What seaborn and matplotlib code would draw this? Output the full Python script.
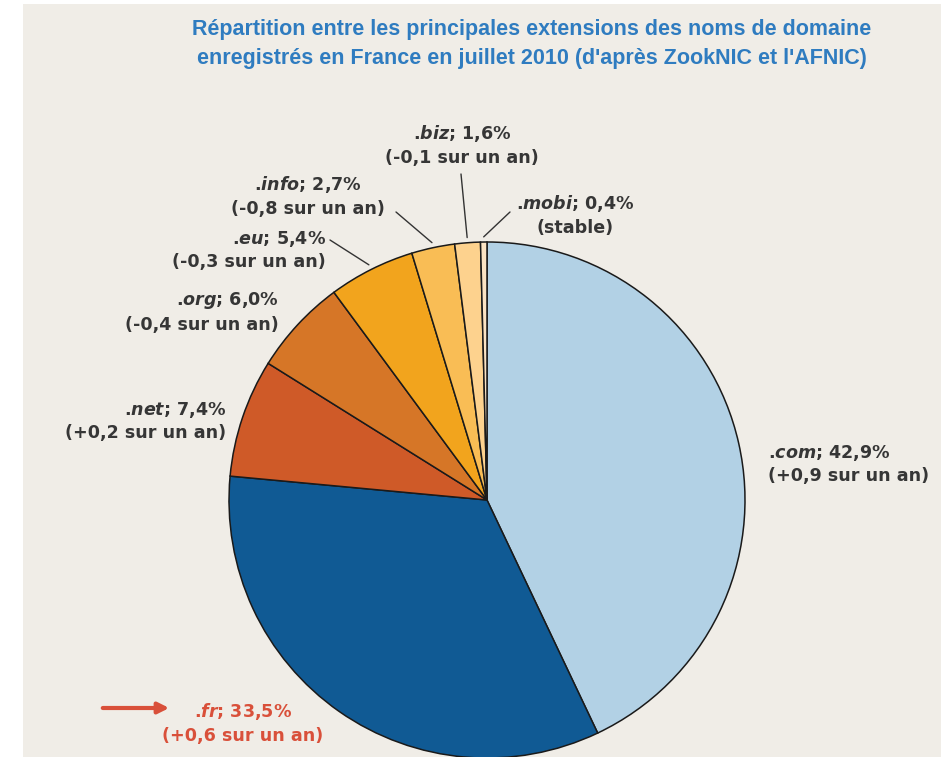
import matplotlib
matplotlib.use("Agg")
import matplotlib.pyplot as plt
from matplotlib.patches import Rectangle
import seaborn as sns
import numpy as np

# data, clockwise from the top
extensions = [".com", ".fr", ".net", ".org", ".eu", ".info", ".biz", ".mobi"]
shares = [42.9, 33.5, 7.4, 6.0, 5.4, 2.7, 1.6, 0.4]
shareLabels = ["42,9%", "33,5%", "7,4%", "6,0%", "5,4%", "2,7%", "1,6%", "0,4%"]
changes = ["+0,9 sur un an", "+0,6 sur un an", "+0,2 sur un an", "-0,4 sur un an",
           "-0,3 sur un an", "-0,8 sur un an", "-0,1 sur un an", "stable"]
sliceColors = ["#b2d1e5", "#105a94", "#cf5a28", "#d67627", "#f2a41d",
               "#f9bd55", "#fdd28e", "#fbe3c3"]

titleText = ("Répartition entre les principales extensions des noms de domaine\n"
             "enregistrés en France en juillet 2010 (d'après ZookNIC et l'AFNIC)")

sns.set_theme(style="white")
plt.rcParams["font.family"] = ["DejaVu Sans"]
plt.rcParams["mathtext.fontset"] = "custom"
plt.rcParams["mathtext.it"] = "DejaVu Sans:bold:italic"
plt.rcParams["mathtext.rm"] = "DejaVu Sans:bold"

W, H = 941, 757
fig = plt.figure(figsize=(W / 100, H / 100), dpi=100, facecolor="white")
ax = fig.add_axes([0, 0, 1, 1])
ax.set_facecolor("none")

# beige panel
fig.add_artist(Rectangle((23 / W, 0), 1 - 23 / W, 1 - 4 / H, transform=fig.transFigure,
                         facecolor="#f0ede7", edgecolor="none", zorder=0))

cx, cy, rad = 487, H - 500, 258

def Y(y):
    return H - y

wedges, _ = ax.pie(shares, colors=sliceColors, startangle=90, counterclock=False,
                   center=(cx, cy), radius=rad,
                   wedgeprops=dict(edgecolor="#1a1a1a", linewidth=1.1))
ax.set_xlim(0, W)
ax.set_ylim(0, H)
ax.set_aspect("equal")
ax.axis("off")

fig.text(532 / W, 1 - 44 / H, titleText, ha="center", va="center",
         fontsize=15.5, fontweight="bold", color="#2f7cc0",
         family=["Liberation Sans", "DejaVu Sans"], linespacing=1.5)

# label layout: (x, y of block centre, alignment, leader start or None)
layout = {
    ".com": (768, 464, "left", None),
    ".fr": (243, 723, "center", None),
    ".net": (226, 421, "right", None),
    ".org": (279, 312, "right", None),
    ".eu": (326, 250, "right", (330, 240)),
    ".info": (308, 196, "center", (396, 212)),
    ".biz": (462, 145, "center", (461, 174)),
    ".mobi": (575, 215, "center", (510, 212)),
}

for i, ext in enumerate(extensions):
    x, y, ha, lead = layout[ext]
    color = "#d9503a" if ext == ".fr" else "#363636"
    label = f".$\\mathit{{{ext[1:]}}}$; {shareLabels[i]}\n({changes[i]})"
    ax.text(x, Y(y), label, ha=ha, va="center", multialignment=ha,
            fontsize=12.6, fontweight="bold", color=color, linespacing=1.35)
    if lead is not None:
        w = wedges[i]
        mid = np.deg2rad((w.theta1 + w.theta2) / 2)
        ex = cx + rad * 1.02 * np.cos(mid)
        ey = cy + rad * 1.02 * np.sin(mid)
        ax.plot([lead[0], ex], [Y(lead[1]), ey], color="#333333", lw=1)

# red arrow pointing at .fr
ax.annotate("", xy=(172, Y(708)), xytext=(100, Y(708)),
            arrowprops=dict(arrowstyle="-|>", color="#d9503a", lw=3, mutation_scale=16))

fig.savefig("out.png", dpi=100, facecolor="white")
